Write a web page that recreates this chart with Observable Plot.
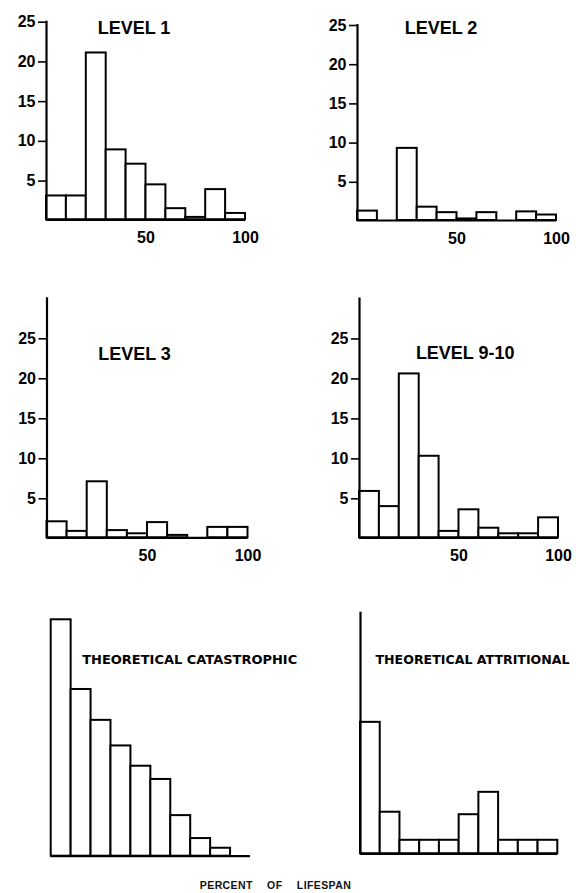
<!DOCTYPE html>
<html>
<head>
<meta charset="utf-8">
<script src="https://cdn.jsdelivr.net/npm/d3@7"></script>
<script src="https://cdn.jsdelivr.net/npm/@observablehq/plot@0.6"></script>
<style>
  html, body { margin: 0; padding: 0; background: #fff; }
  #chart { position: relative; width: 576px; height: 893px; overflow: hidden; background: #fff; }
  #chart svg { position: absolute; overflow: visible; }
  g[aria-label="title"] text { letter-spacing: 1.5px; }
  #xlabel { position: absolute; font-family: "Liberation Sans", Arial, sans-serif; font-weight: bold;
            font-size: 10.5px; line-height: 1; word-spacing: 11px; letter-spacing: 0.4px; color: #111; white-space: nowrap; }
</style>
</head>
<body>
<div id="chart"></div>
<script>
// ---- data ----
const binStart = [0, 10, 20, 30, 40, 50, 60, 70, 80, 90];
const binEnd   = [10, 20, 30, 40, 50, 60, 70, 80, 90, 100];

const level1      = [3, 3, 21, 8.8, 7, 4.4, 1.4, 0.3, 3.8, 0.8];
const level2      = [1.2, 0, 9.2, 1.7, 1, 0.2, 1, 0, 1.1, 0.7];
const level3      = [2, 0.8, 7, 0.9, 0.5, 1.9, 0.3, 0, 1.3, 1.3];
const level910    = [5.8, 3.9, 20.5, 10.2, 0.8, 3.5, 1.2, 0.5, 0.5, 2.5];
const catastrophic = [26.8, 18.9, 15.4, 12.5, 10.2, 8.7, 4.6, 2.0, 0.9, 0];
const attritional  = [37, 11.7, 3.8, 3.8, 3.8, 11, 17.3, 3.8, 3.8, 3.8];

const titles = ["LEVEL 1", "LEVEL 2", "LEVEL 3", "LEVEL 9-10",
                "THEORETICAL CATASTROPHIC", "THEORETICAL ATTRITIONAL"];
const yTicks = [5, 10, 15, 20, 25];
const xTicks = [50, 100];
const xTitle = "PERCENT OF LIFESPAN";

// ---- layout ----
const FONT = "Liberation Sans, Arial, Helvetica, sans-serif";
const panels = [
  {values: level1, title: titles[0], left: 0, top: 0, width: 265, height: 249.3,
   mL: 46, mR: 20, mT: 20.7, mB: 30, yMax: 25, axes: true, axisLine: true,
   tdx: 87.5, tdy: 7.3, tAnchor: "middle", tSize: 18, tFont: FONT},
  {values: level2, title: titles[1], left: 288, top: 0, width: 288, height: 250,
   mL: 69, mR: 20, mT: 24, mB: 30, yMax: 25, axes: true, axisLine: true,
   tdx: 83.5, tdy: 4, tAnchor: "middle", tSize: 18, tFont: FONT},
  {values: level3, title: titles[2], left: 0, top: 270, width: 267.5, height: 297.3,
   mL: 46.5, mR: 20, mT: 27.3, mB: 30, yMax: 30, axes: true, axisLine: true,
   tdx: 87.5, tdy: 56.7, tAnchor: "middle", tSize: 18, tFont: FONT},
  {values: level910, title: titles[3], left: 288, top: 270, width: 288, height: 297.3,
   mL: 71, mR: 18, mT: 27.5, mB: 30, yMax: 30, axes: true, axisLine: true,
   tdx: 105.7, tdy: 55, tAnchor: "middle", tSize: 18, tFont: FONT},
  {values: catastrophic, title: titles[4], left: 0, top: 600, width: 280, height: 265.7,
   mL: 50.7, mR: 30, mT: 19.3, mB: 10, yMax: 26.8, axes: false, axisLine: false,
   tdx: 31, tdy: 39.7, tAnchor: "start", tSize: 13, tFont: "DejaVu Sans, sans-serif"},
  {values: attritional, title: titles[5], left: 288, top: 600, width: 288, height: 263.3,
   mL: 72, mR: 18.7, mT: 11.7, mB: 10, yMax: 68, axes: false, axisLine: true,
   tdx: 15, tdy: 47.3, tAnchor: "start", tSize: 12.6, tFont: "DejaVu Sans, sans-serif"}
];

const chart = document.getElementById("chart");

panels.forEach(p => {
  const data = binStart.map((s, i) => ({start: s, end: binEnd[i], value: p.values[i]}));
  const marks = [
    Plot.rectY(data, {x1: "start", x2: "end", y: "value", fill: "white",
                      stroke: "black", strokeWidth: 2}),
    Plot.ruleY([0], {stroke: "black", strokeWidth: 2.2})
  ];
  if (p.axisLine) marks.push(Plot.ruleX([0], {stroke: "black", strokeWidth: 2.2}));
  if (p.axes) {
    marks.push(Plot.axisY({ticks: yTicks, tickSize: 8, tickPadding: 3, label: null,
      fontSize: 16, fontWeight: "bold", fontFamily: FONT, strokeWidth: 1.6, dy: 1}));
    marks.push(Plot.axisX({ticks: xTicks, tickSize: 0, tickPadding: 12, label: null,
      fontSize: 16, fontWeight: "bold", fontFamily: FONT}));
  }
  marks.push(Plot.text([p.title], {frameAnchor: "top-left", dx: p.tdx, dy: p.tdy,
    textAnchor: p.tAnchor, lineAnchor: "middle", fontSize: p.tSize, fontWeight: "bold",
    fontFamily: p.tFont, fill: "black", ariaLabel: p.tAnchor === "middle" ? "title" : "subtitle"}));

  const svg = Plot.plot({
    width: p.width, height: p.height,
    marginLeft: p.mL, marginRight: p.mR, marginTop: p.mT, marginBottom: p.mB,
    x: {domain: [0, 100], axis: p.axes ? undefined : null, label: null},
    y: {domain: [0, p.yMax], axis: p.axes ? undefined : null, label: null},
    style: {background: "transparent", fontFamily: FONT, color: "black", overflow: "visible"},
    marks
  });
  svg.style.left = p.left + "px";
  svg.style.top = p.top + "px";
  chart.appendChild(svg);
});

const xl = document.createElement("div");
xl.id = "xlabel";
xl.textContent = xTitle;
chart.appendChild(xl);
const w = xl.getBoundingClientRect().width;
xl.style.left = (275.5 - w / 2) + "px";
xl.style.top = (885 - 0.49 * 10.5) + "px";
</script>
</body>
</html>
